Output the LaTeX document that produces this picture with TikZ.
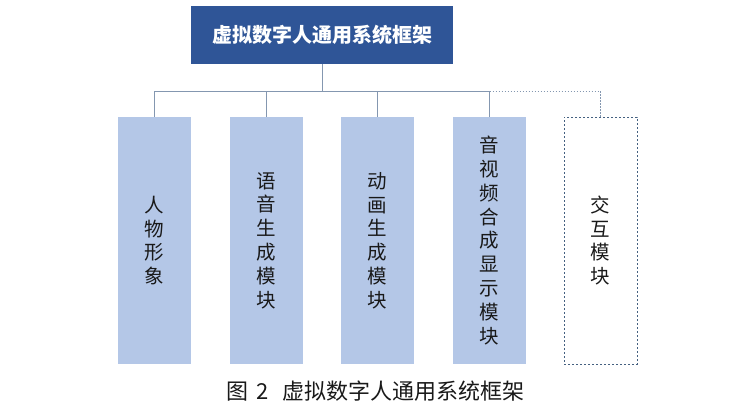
\documentclass[tikz,border=0pt]{standalone}
\usepackage{fontspec}
\newfontfamily\cjk{Noto Sans CJK SC}
\definecolor{topblue}{RGB}{47, 85, 151}
\definecolor{modblue}{RGB}{180, 199, 231}
\definecolor{linegray}{RGB}{132, 151, 176}
\definecolor{dotblue}{RGB}{68, 96, 128}
\definecolor{textdark}{RGB}{25, 25, 25}
\usetikzlibrary{positioning, calc}

\begin{document}
\begin{tikzpicture}[x=1pt, y=-1pt,
  topbox/.style={fill=topblue, text=white, minimum width=262pt, minimum height=58pt, inner sep=0pt, font=\cjk\bfseries\fontsize{20pt}{24pt}\selectfont},
  modbox/.style={fill=modblue, text=textdark, minimum width=73pt, minimum height=247pt, inner sep=0pt, align=center, font=\cjk\fontsize{19.5pt}{23.8pt}\selectfont},
  openbox/.style={modbox, fill=none, draw=dotblue, line width=1pt, dash pattern=on 2pt off 2pt},
  branch/.style={draw=linegray, line width=0.9pt},
  openbranch/.style={branch, dash pattern=on 1.5pt off 1.5pt}]
  \useasboundingbox (0,0) rectangle (738,408);

  % Top
  \node[topbox] (sys) at (322, 35) {虚拟数字人通用系统框架};
  \coordinate (bus) at (0, 91);

  % Modules
  \node[modbox] (m1) at (154.5, 240.5) {人\\物\\形\\象};
  \node[modbox] (m2) at (266, 240.5) {语\\音\\生\\成\\模\\块};
  \node[modbox] (m3) at (377.5, 240.5) {动\\画\\生\\成\\模\\块};
  \node[modbox] (m4) at (489.5, 240.5) {音\\视\\频\\合\\成\\显\\示\\模\\块};
  \node[openbox] (m5) at (600.5, 240.5) {交\\互\\模\\块};

  % Tree
  \draw[branch] (sys.south) -- (sys.south |- bus) -| (m1.north);
  \draw[branch] (sys.south |- bus) -| (m2.north);
  \draw[branch] (sys.south |- bus) -| (m3.north);
  \draw[branch] (sys.south |- bus) -| (m4.north);
  \draw[openbranch] (m4.north |- bus) -| (m5.north);

  % Caption
  \node[anchor=west, inner sep=0pt, font=\cjk\fontsize{22pt}{24pt}\selectfont, text=textdark] (cap) at (226, 391) {图\hspace{8pt}2\hspace{14pt}虚拟数字人通用系统框架};
\end{tikzpicture}
\end{document}
